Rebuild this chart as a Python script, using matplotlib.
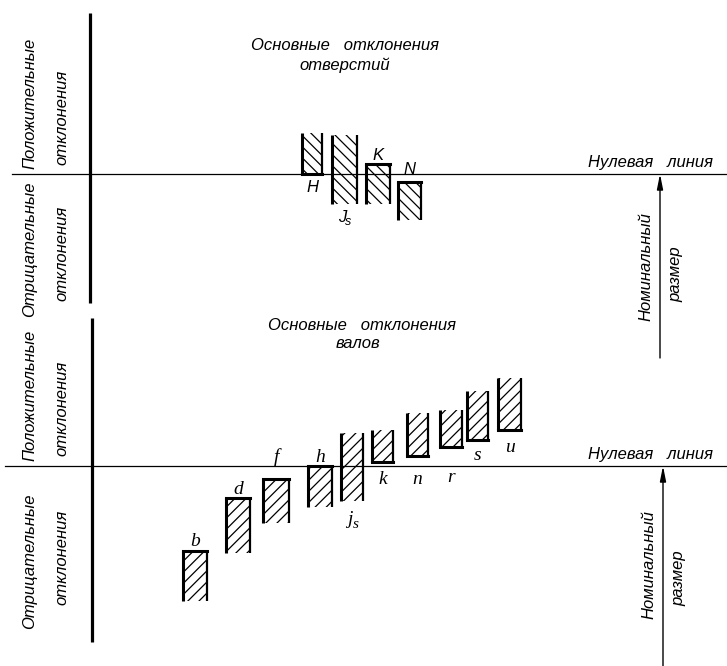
import matplotlib
matplotlib.use("Agg")
import matplotlib.pyplot as plt

############################################
# DATA (reference pixels, deviations measured up from each zero line)
############################################

HOLE_NAMES = ["H", "J", "K", "N"]
HOLE_SUBS = ["", "s", "", ""]
HOLE_X = [312, 344.5, 378, 409.5]
HOLE_W = [20, 25, 24, 23]
HOLE_UPPER = [41, 39, 10, -8]
HOLE_LOWER = [0, -30, -30, -46]
HOLE_EDGE = ["bottom", None, "top", "top"]
HOLE_LABEL_Y = [-14, -44, 19, 4]

SHAFT_NAMES = ["b", "d", "f", "h", "j", "k", "n", "r", "s", "u"]
SHAFT_SUBS = ["", "", "", "", "s", "", "", "", "", ""]
SHAFT_X = [195, 238, 276, 320, 352, 382.5, 417.5, 451, 477.5, 509.5]
SHAFT_W = [24, 24, 26, 24, 22, 21, 21, 22, 21, 23]
SHAFT_UPPER = [-85, -32, -13, 0, 33, 36, 53, 56, 75, 88]
SHAFT_LOWER = [-135, -87, -57, -41, -35, 4, 10, 19, 26, 36]
SHAFT_EDGE = ["top", "top", "top", "top", None, "bottom", "bottom", "bottom", "bottom", "bottom"]
SHAFT_LABEL_Y = [-76, -23, 9, 9, -54, -14, -14, -12, 11, 19]

############################################
# STYLE
############################################

SANS = ["Liberation Sans Narrow", "Liberation Sans", "DejaVu Sans"]
SERIF = ["Liberation Serif", "DejaVu Serif"]
plt.rcParams["hatch.linewidth"] = 0.9
plt.rcParams["hatch.color"] = "black"

fig = plt.figure(figsize=(7.27, 6.66), dpi=100)
ax = fig.add_axes([0, 0, 1, 1])
ax.set_xlim(0, 727)
ax.set_ylim(666, 0)
ax.axis("off")


def txt(x, y, s, size=12, rot=0, family=SANS, **kw):
    ax.text(x, y, s, fontsize=size, rotation=rot, family=family, style="italic",
            ha="center", va="center", color="black", **kw)


def panel(zero, axis_x, axis_span, zline_x0, arrow_x, arrow_end, title, title_y,
          left_y, nom_y, xs, ws, up, lo, edges, names, subs, lab_y, hatch, letter_font, letter_size):
    # axes lines
    ax.plot([axis_x, axis_x], axis_span, color="black", lw=2.3, solid_capstyle="butt")
    ax.plot([zline_x0, 727], [zero, zero], color="black", lw=0.9)
    # bars
    tops = [zero - u for u in up]
    hs = [u - l for u, l in zip(up, lo)]
    ax.bar(xs, hs, width=ws, bottom=tops, fill=False, hatch=hatch,
           edgecolor="black", linewidth=0)
    for x, w, u, l, e in zip(xs, ws, up, lo, edges):
        x0, x1 = x - w / 2, x + w / 2
        ax.plot([x0, x0], [zero - u, zero - l], color="black", lw=2.2, solid_capstyle="butt")
        ax.plot([x1, x1], [zero - u, zero - l], color="black", lw=1.6, solid_capstyle="butt")
        if e == "top":
            ax.plot([x0, x1], [zero - u, zero - u], color="black", lw=2.2)
        elif e == "bottom":
            ax.plot([x0, x1], [zero - l, zero - l], color="black", lw=2.2)
    for x, n, s, ly in zip(xs, names, subs, lab_y):
        if s:
            txt(x - 2, zero - ly, n, size=letter_size, family=letter_font)
            txt(x + 4, zero - ly + 4, s, size=letter_size - 3, family=letter_font)
        else:
            txt(x, zero - ly, n, size=letter_size, family=letter_font)
    # titles
    txt(title[0], title_y[0], "Основные   отклонения")
    txt(title[1], title_y[1], title[2])
    # left vertical labels
    txt(30, left_y[0], "Положительные", rot=90)
    txt(62, left_y[1], "отклонения", rot=90)
    txt(30, left_y[2], "Отрицательные", rot=90)
    txt(62, left_y[3], "отклонения", rot=90)
    # zero line label and nominal size arrow
    txt(650, zero - 11, "Нулевая   линия")
    ax.annotate("", xy=(arrow_x, zero), xytext=(arrow_x, arrow_end),
                arrowprops=dict(arrowstyle="-|>,head_length=0.9,head_width=0.18",
                                lw=1.0, color="black", shrinkA=0, shrinkB=0))
    txt(arrow_x - 14, nom_y[0], "Номинальный", rot=90)
    txt(arrow_x + 16, nom_y[1], "размер", rot=90)


panel(174, 90, [13, 303], 12, 660, 358, (345, 345, "отверстий"), (45, 65),
      [103, 117, 249, 253], [267, 274],
      HOLE_X, HOLE_W, HOLE_UPPER, HOLE_LOWER, HOLE_EDGE, HOLE_NAMES, HOLE_SUBS,
      HOLE_LABEL_Y, "\\\\\\", SANS, 12)

panel(466, 92, [318, 642], 5, 663, 666, (362, 358, "валов"), (325, 343),
      [395, 408, 561, 557], [565, 578],
      SHAFT_X, SHAFT_W, SHAFT_UPPER, SHAFT_LOWER, SHAFT_EDGE, SHAFT_NAMES, SHAFT_SUBS,
      SHAFT_LABEL_Y, "///", SERIF, 14)

fig.savefig("out.png", dpi=100, facecolor="white")
